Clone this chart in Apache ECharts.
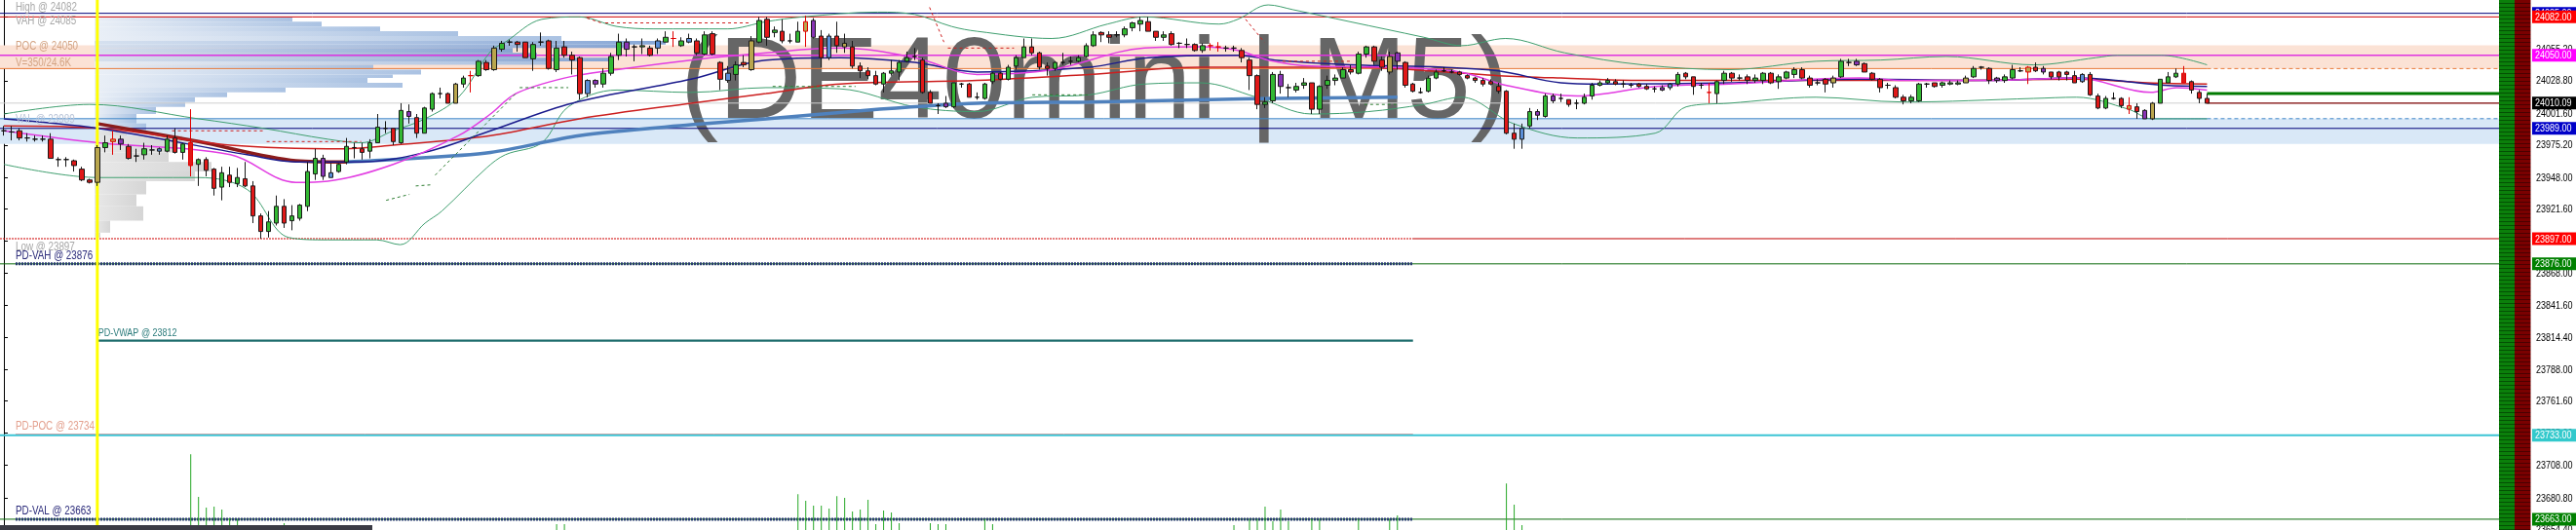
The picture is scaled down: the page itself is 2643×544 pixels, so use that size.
<!DOCTYPE html>
<html><head><meta charset="utf-8">
<script src="https://cdn.jsdelivr.net/npm/echarts@6/dist/echarts.min.js"></script>
<style>html,body{margin:0;padding:0;background:#fff;overflow:hidden}#c{width:2643px;height:544px}</style>
</head><body><div id="c"></div>
<script>
// ---- data ----
// candles: [open, close, low, high]
const candles = [
[23987,23987,23983,23991],[23986,23986,23979,23991],[23987,23981,23979,23989],[23981,23981,23978,23985],[23980,23980,23978,23983],[23980,23980,23978,23983],[23980,23964,23964,23985],[23963,23963,23957,23965],[23963,23963,23957,23965],[23962,23958,23953,23963],
[23955,23946,23945,23957],[23946,23944,23943,23947],[23944,23973,23941,23975],[23973,23977,23969,23983],[23978,23980,23967,23987],[23976,23980,23971,23983],[23974,23964,23963,23976],[23966,23966,23961,23972],[23967,23972,23963,23977],[23971,23971,23967,23975],
[23970,23972,23967,23973],[23970,23980,23969,23983],[23981,23969,23968,23989],[23969,23976,23963,23977],[23977,23958,23949,24005],[23959,23963,23941,23964],[23963,23954,23949,23965],[23955,23939,23933,23956],[23940,23952,23929,23957],[23950,23944,23940,23957],
[23943,23948,23940,23956],[23947,23941,23940,23961],[23941,23916,23910,23945],[23916,23903,23897,23918],[23903,23911,23898,23920],[23910,23924,23908,23933],[23924,23910,23906,23930],[23912,23916,23904,23925],[23914,23925,23912,23926],[23924,23953,23920,23961],
[23951,23964,23946,23972],[23964,23949,23946,23967],[23948,23952,23948,23960],[23953,23959,23952,23960],[23961,23974,23959,23981],[23973,23973,23964,23977],[23972,23969,23963,23977],[23970,23977,23964,23980],[23977,23990,23977,24001],[23989,23989,23985,23995],
[23989,23978,23975,23989],[23977,24004,23976,24010],[24003,23999,23993,24009],[23998,23985,23981,24001],[23985,24006,23985,24007],[24005,24018,24003,24019],[24018,24018,24014,24023],[24018,24010,24010,24019],[24010,24026,24010,24027],[24026,24031,24023,24033],
[24033,24033,24019,24037],[24033,24045,24032,24046],[24044,24038,24037,24046],[24038,24056,24037,24058],[24055,24060,24053,24062],[24061,24061,24058,24063],[24061,24059,24053,24062],[24061,24048,24048,24061],[24047,24059,24037,24061],[24061,24061,24058,24069],
[24062,24039,24038,24063],[24038,24056,24036,24062],[24057,24050,24048,24062],[24050,24046,24034,24053],[24048,24018,24013,24049],[24018,24029,24015,24030],[24029,24026,24023,24030],[24026,24035,24023,24039],[24035,24049,24033,24052],[24050,24061,24046,24068],
[24061,24055,24049,24064],[24057,24057,24045,24059],[24057,24058,24051,24064],[24056,24050,24049,24058],[24056,24062,24051,24064],[24061,24065,24061,24070],[24064,24064,24057,24070],[24058,24062,24057,24065],[24061,24064,24060,24068],[24062,24052,24050,24064],
[24051,24067,24050,24070],[24068,24051,24050,24070],[24044,24030,24021,24045],[24029,24035,24027,24041],[24034,24042,24029,24045],[24044,24042,24040,24050],[24038,24062,24037,24066],[24061,24079,24060,24082],[24080,24065,24058,24082],[24069,24071,24065,24074],
[24070,24062,24060,24080],[24062,24062,24060,24068],[24061,24070,24061,24078],[24070,24078,24057,24083],[24079,24065,24064,24081],[24066,24048,24040,24071],[24048,24066,24046,24068],[24066,24058,24052,24078],[24057,24060,24052,24068],[24057,24041,24039,24062],
[24041,24037,24031,24044],[24037,24033,24030,24040],[24033,24026,24025,24037],[24026,24035,24019,24036],[24035,24037,24033,24046],[24036,24044,24029,24046],[24045,24048,24044,24053],[24049,24049,24046,24056],[24046,24019,24018,24048],[24019,24010,24010,24021],
[24008,24008,24001,24010],[24007,24010,24006,24016],[24007,24027,24006,24027],[24026,24026,24023,24027],[24026,24015,24015,24027],[24015,24015,24013,24019],[24014,24026,24013,24027],[24028,24035,24026,24036],[24035,24030,24029,24036],[24030,24040,24029,24042],
[24041,24048,24038,24050],[24048,24057,24048,24064],[24057,24052,24050,24064],[24052,24040,24038,24053],[24041,24039,24033,24044],[24039,24044,24037,24045],[24044,24044,24042,24052],[24045,24045,24042,24049],[24045,24048,24044,24050],[24049,24058,24048,24060],
[24058,24067,24057,24070],[24069,24067,24061,24070],[24067,24065,24060,24070],[24067,24067,24065,24070],[24067,24072,24065,24074],[24073,24077,24070,24078],[24076,24079,24070,24082],[24078,24070,24070,24082],[24070,24065,24062,24070],[24065,24067,24062,24070],
[24068,24059,24058,24070],[24060,24060,24056,24061],[24059,24059,24056,24064],[24059,24054,24053,24060],[24054,24058,24052,24060],[24058,24058,24054,24060],[24057,24057,24053,24061],[24056,24056,24053,24058],[24056,24056,24053,24058],[24054,24048,24044,24056],
[24046,24033,24021,24048],[24033,24009,24005,24034],[24009,24011,24006,24015],[24012,24034,24010,24036],[24034,24024,24018,24037],[24023,24023,24015,24026],[24021,24024,24019,24027],[24025,24027,24022,24031],[24027,24005,24001,24027],[24005,24024,24001,24025],
[24025,24029,24022,24033],[24029,24031,24025,24034],[24031,24038,24031,24040],[24038,24036,24034,24042],[24035,24051,24034,24053],[24051,24057,24048,24058],[24057,24045,24042,24058],[24046,24040,24037,24049],[24036,24049,24034,24053],[24045,24052,24038,24053],
[24044,24025,24023,24045],[24026,24020,24019,24027],[24019,24019,24018,24023],[24020,24031,24019,24033],[24031,24036,24030,24038],[24037,24037,24036,24040],[24036,24036,24035,24038],[24036,24034,24033,24037],[24033,24031,24030,24034],[24031,24029,24027,24032],
[24029,24026,24024,24031],[24028,24026,24025,24030],[24024,24020,24018,24027],[24020,23985,23984,24021],[23985,23980,23972,23993],[23980,23989,23972,23993],[23991,24003,23989,24006],[24003,24000,23996,24005],[23999,24016,23998,24018],[24012,24016,24010,24018],
[24014,24014,24011,24018],[24013,24009,24007,24013],[24010,24010,24005,24013],[24010,24015,24009,24018],[24016,24025,24013,24027],[24025,24027,24024,24029],[24027,24029,24026,24031],[24028,24026,24025,24030],[24026,24026,24023,24029],[24025,24025,24023,24027],
[24026,24024,24023,24027],[24024,24022,24021,24026],[24022,24022,24019,24024],[24021,24023,24020,24025],[24023,24026,24021,24027],[24026,24034,24024,24036],[24035,24032,24030,24036],[24032,24024,24017,24032],[24025,24025,24022,24027],[24019,24019,24010,24027],
[24018,24028,24010,24029],[24029,24035,24026,24037],[24035,24031,24028,24036],[24031,24031,24029,24034],[24032,24029,24026,24034],[24029,24031,24027,24034],[24029,24035,24026,24036],[24035,24027,24026,24036],[24028,24032,24022,24034],[24031,24036,24030,24037],
[24034,24038,24031,24040],[24038,24031,24030,24040],[24031,24025,24023,24033],[24027,24027,24025,24030],[24030,24026,24019,24031],[24027,24031,24023,24033],[24032,24045,24031,24047],[24044,24044,24041,24047],[24042,24045,24041,24047],[24043,24036,24036,24044],
[24035,24030,24029,24036],[24030,24023,24019,24031],[24025,24025,24022,24027],[24023,24015,24014,24025],[24015,24012,24009,24017],[24012,24015,24010,24017],[24012,24026,24011,24027],[24026,24026,24023,24027],[24027,24024,24023,24027],[24025,24027,24023,24028],
[24026,24027,24025,24029],[24026,24027,24025,24029],[24027,24031,24027,24033],[24032,24039,24031,24041],[24040,24040,24038,24041],[24039,24029,24026,24040],[24031,24029,24027,24032],[24029,24032,24027,24034],[24031,24038,24030,24042],[24037,24037,24036,24040],
[24036,24040,24026,24041],[24040,24037,24036,24044],[24039,24036,24034,24041],[24036,24032,24030,24036],[24036,24032,24029,24037],[24036,24034,24029,24037],[24033,24027,24027,24037],[24028,24034,24027,24035],[24034,24017,24016,24036],[24016,24006,24005,24018],
[24006,24014,24005,24016],[24014,24014,24013,24019],[24014,24008,24006,24015],[24005,24008,24001,24015],[24007,24003,23997,24010],[24004,23997,23997,24005],[23997,24010,23996,24011],[24010,24030,24010,24030],[24027,24032,24027,24036],[24032,24035,24031,24039],
[24035,24027,24027,24041],[24028,24021,24018,24029],[24019,24014,24010,24021],[24014,24010,24010,24018]
];
// candle class: g up, r down, x doji, X doji red wick, R down red wick, p purple, b blue, o olive, O olive red wick
const candleKind =
"xxrxxxrxxr"+"rrogOprxgx"+"bgrgRgrrgr"+"grrrggrggg"+"gpbggxrggx"+"rgprggxrog"+"Xgrogxrrgx"+"rgrrrbpggg"+
"pxgrbgXgbr"+"grrbgrogrg"+"rxgOprbror"+"rrrggggxrr"+"xpgxrxggrg"+"ggrrrgxxgg"+"grrxgggrrg"+"rxxrgXXxxr"+
"rrggpxggrg"+"gggrggrrop"+"rrxggxxrrr"+"rrrrrbgpgp"+"xrxggggrxx"+"rrxpbgrrxX"+"ggrxrggrgg"+"grrxrogxpr"+
"rrxrrggxrg"+"ggogxrpggx"+"Orprrrrbrr"+"gxrOrpoggg"+"Rrrr";

const volumeIdx = [24,25,26,27,28,29,30,36,71,72,102,103,104,105,106,107,108,109,110,111,112,113,114,115,119,120,121,126,127,158,160,161,162,163,164,165,168,169,174,178,179,193,194,195];
const volumeVal = [780,340,230,240,210,120,110,70,60,60,370,300,250,250,220,350,330,190,210,310,60,200,180,70,70,60,60,110,60,50,110,110,240,90,210,90,110,110,110,110,150,480,260,50];

const profileLow  = [24078,24074,24070,24066,24062,24059,24056,24052,24048,24045,24042,24038,24034,24031,24027,24023,24019,24015,24011,24007,24001,23993,23987,23983,23976,23969,23961,23953,23945,23934,23924,23912,23902,23898];
const profileHigh = [24082,24078,24074,24070,24066,24062,24059,24056,24052,24048,24045,24042,24038,24034,24031,24027,24023,24019,24015,24011,24007,24001,23993,23987,23983,23976,23969,23961,23953,23945,23934,23924,23912,23902];
const profileVol  = [203,233,293,373,479,586,543,429,454,533,463,286,335,306,280,316,196,136,103,93,63,43,53,33,90,83,76,120,103,53,43,50,16,6];

// indicator lines: [bar index, price]
const maFast = [[0,23987],[12.1,23977],[29.1,23967],[37.5,23944],[41.6,23945],[50,23959],[58.4,23983],[62.5,24001],[65.75,24018],[72,24031],[78.75,24038],[88.25,24046],[97.9,24052],[107.4,24056],[117,24048],[125,24034],[134.6,24038],[146.5,24056],[153.75,24057],[158.5,24054],[162.4,24046],[168,24041],[177.6,24040],[187.1,24036],[192.9,24025],[202.1,24016],[212.1,24024],[221.6,24026],[238.4,24031],[244,24029],[255.1,24029],[266.25,24031],[275.75,24019],[279.1,24023],[283,24021]];
const maMid = [[0,23997],[12.1,23989],[31.25,23967],[37.5,23961],[45.9,23961],[54.1,23969],[62.5,23987],[73,24010],[88.25,24030],[97.9,24046],[107.4,24048],[117,24044],[125,24036],[139.4,24040],[147,24048],[158.5,24050],[163.25,24046],[172.9,24042],[184.75,24040],[192,24037],[200,24027],[204.9,24026],[221.6,24027],[238.4,24030],[255.1,24029],[266.25,24031],[277.5,24025],[283,24024]];
const maSlow = [[0,23991],[12.5,23989],[29.1,23975],[43.75,23972],[50,23975],[62.5,23983],[73.9,23997],[88.25,24010],[97.9,24018],[107.4,24026],[125,24029],[139.4,24034],[153.75,24040],[172.9,24040],[192,24033],[200,24031],[210.5,24029],[232.75,24029],[249.5,24029],[266.25,24030],[275.4,24027],[283,24026]];
const vwapDown = [[12,23993],[25,23978],[37.5,23962],[44,23961]];
const vwapUp = [[44,23961],[50,23963],[62.5,23969],[73.9,23983],[88.25,23992],[97.9,23997],[112.5,24005],[125,24010],[139.4,24011],[155.1,24013],[163.25,24014],[179,24015]];
const bbUpper = [[0,24001],[11,24009],[25,23997],[33.4,23989],[41.6,23980],[45.9,23977],[50,23987],[54.1,23997],[58.4,24015],[62.5,24053],[64.4,24061],[69.1,24080],[73.9,24082],[78.75,24074],[83.5,24072],[93,24072],[97.9,24078],[102.6,24082],[112.25,24086],[117,24084],[121.75,24074],[125,24070],[134.6,24064],[141.75,24076],[146.5,24082],[156.1,24076],[158.5,24080],[162.4,24092],[165.6,24088],[172.9,24078],[182.4,24065],[187.25,24058],[192.9,24064],[200.5,24052],[210.5,24042],[221.6,24038],[232.75,24045],[241.1,24046],[249.5,24049],[260.75,24042],[268.75,24048],[271.5,24050],[277.1,24050],[283,24042]];
const bbLower = [[0,23959],[12.1,23948],[25,23948],[31.25,23938],[36.6,23898],[41.6,23896],[47.9,23896],[50.9,23892],[54.1,23910],[56.25,23920],[62,23956],[64.4,23967],[69.1,23977],[72.5,24007],[78.75,24021],[88.25,24019],[97.9,24023],[107.4,24022],[117,24007],[125,24003],[132.1,24015],[139.4,24017],[146.5,24026],[153.75,24027],[160.9,24015],[168,24001],[175.25,24003],[182.4,24009],[187.25,24015],[193.9,23993],[202.1,23981],[212.1,23985],[216.1,24007],[221.6,24010],[232.75,24015],[244,24011],[260.75,24014],[266.25,24015],[272.9,24005],[275.9,23997],[283,23997]];
const stopGreen = [[[49.1,23929],[52.1,23934]],[[52.9,23941],[55,23942]],[[55.4,23950],[65.75,24018]],[[66.25,24023],[72.5,24023]],[[98.75,24024],[109.4,24024]],[[132.1,24017],[139.4,24017]],[[174.75,24009],[179,24009]]];
const stopRed = [[[21.6,23987],[33.4,23987]],[[33.75,23978],[45.9,23978]],[[74.9,24081],[76.75,24077]],[[77.25,24077],[95.9,24077]],[[118.9,24090],[120.75,24061]],[[121.25,24056],[129.75,24056]],[[159.5,24080],[161.9,24061]],[[164.25,24045],[172.9,24045]]];

// horizontal levels
const levelPrices = [24085,24082,24050,24038.9,24010.09,24018,23997.1,23989,23897,23876,23812,23734,23733,23663];
const zonePoc = [24038.9,24058.3];
const zoneVal = [23976.0,23997.1];
const levelLabels = ['High @ 24082','VAH @ 24085','POC @ 24050','V=350/24.6K','VAL @ 23989','Low @ 23897','PD-VAH @ 23876','PD-VWAP @ 23812','PD-POC @ 23734','PD-VAL @ 23663'];
const levelLabelPrices = [24082,24085,24050,24038.9,23989,23897,23876,23812,23734,23663];
const tagPrices = [24085,24082,24050,24010.09,23989,23897,23876,23733,23663];
const yTicks = [24082.4,24055.2,24028.8,24001.6,23975.2,23948.0,23921.6,23895.2,23868.0,23841.6,23814.4,23788.0,23761.6,23735.2,23708.0,23680.8,23654.4];
const sessionStart = 12;
const lastBar = 283;

// ---- font check: narrow family if present, otherwise squeeze regular ----
function textW(font, t) { const c = document.createElement('canvas').getContext('2d'); c.font = font; return c.measureText(t).width; }
const wNarrow = textW('11px "Liberation Sans Narrow", monospace', '24028.80');
const wMono = textW('11px monospace', '24028.80');
const hasNarrow = Math.abs(wNarrow - wMono) > 0.5;
const FAM = hasNarrow ? '"Liberation Sans Narrow"' : '"Liberation Sans", Arial, sans-serif';
const SQ = hasNarrow ? 1 : Math.min(1, 37.6 / textW('11px "Liberation Sans", Arial, sans-serif', '24028.80'));

// ---- build ----
const YMIN = 23654, YMAX = 24096.1, NCAT = 321, XEND = NCAT - 0.5;
const cats = Array.from({length: NCAT}, (_, i) => String(i));
const kindStyle = {
  x: {borderColor:'#111', borderColor0:'#111', borderColorDoji:'#111'},
  X: {borderColor:'#e00000', borderColor0:'#e00000', borderColorDoji:'#e00000'},
  R: {borderColor0:'#e00000'},
  p: {color:'#8a34b6', color0:'#8a34b6'},
  b: {color:'#5b8fd8', color0:'#5b8fd8'},
  o: {color:'#b9a64d', color0:'#b9a64d'},
  O: {color:'#b9a64d', color0:'#b9a64d', borderColor:'#e00000', borderColor0:'#e00000'}
};
const candleData = candles.map((c, i) => {
  const st = kindStyle[candleKind[i]];
  return st ? {value: c, itemStyle: st} : c;
});
const volData = cats.map(() => 0);
volumeIdx.forEach((k, i) => { volData[k] = volumeVal[i]; });

function lineSeries(data, color, width, type, z, smooth) {
  return {type:'line', xAxisIndex:1, yAxisIndex:0, data, showSymbol:false, symbol:'none', silent:true,
    smooth: smooth || 0, z: z || 3, lineStyle:{color, width, type: type || 'solid'}, animation:false};
}
const series = [];
series.push({type:'line', xAxisIndex:1, yAxisIndex:0, data:[], z:0, silent:true,
  markArea:{silent:true, data:[
    [{coord:[-0.5, zonePoc[1]], itemStyle:{color:'#fbe2d5'}}, {coord:[XEND, zonePoc[0]]}],
    [{coord:[-0.5, zoneVal[1]], itemStyle:{color:'#d9e8f7'}}, {coord:[XEND, zoneVal[0]]}]
  ]}});
series.push({type:'custom', xAxisIndex:2, yAxisIndex:2, z:1, silent:true,
  data: profileLow.map((l, i) => [l, profileHigh[i], profileVol[i]]),
  renderItem(params, api) {
    const lo = api.value(0), hi = api.value(1), v = api.value(2);
    const p0 = api.coord([0, hi]), p1 = api.coord([v, lo]);
    let c0 = '#e8eef6', c1 = '#a3bde0';
    if (lo >= 24045 && hi <= 24062) { c0 = '#d2deee'; c1 = '#7d9fd2'; }
    if (hi <= 23990) { c0 = '#e6e6e6'; c1 = '#d2d2d2'; }
    return {type:'rect', shape:{x:p0[0], y:p0[1], width:p1[0]-p0[0], height:p1[1]-p0[1]},
      style:{fill: new echarts.graphic.LinearGradient(0,0,1,0,[{offset:0,color:c0},{offset:1,color:c1}]), opacity:0.92}};
  }});
const segs = [
  [0,-0.5,XEND,'#00007a',1,'solid'],[1,-0.5,XEND,'#d00000',1,'solid'],[2,-0.5,XEND,'#e033e0',1.5,'solid'],
  [3,-0.5,lastBar,'#e8793a',1,'solid'],[3,lastBar,XEND,'#e8793a',1,[4,3]],
  [4,-0.5,lastBar,'#d0d0d0',1,'solid'],[4,lastBar,XEND,'#7a0000',1.2,'solid'],
  [5,lastBar,XEND,'#007a00',3,'solid'],
  [6,-0.5,lastBar,'#3d85c6',1,'solid'],[6,lastBar,XEND,'#3d85c6',1,[4,3]],
  [7,-0.5,XEND,'#00007a',1,'solid'],
  [8,-0.5,181,'#d00000',1,[2,1]],[8,181,XEND,'#c00000',1,'solid'],
  [9,-0.5,XEND,'#0a6a0a',1,'solid'],[9,1.5,181,'#2b3c72',3,[2,1]],
  [10,12.1,181,'#1e6e6e',2.2,'solid'],
  [11,1.5,181,'#eda3a3',1,'solid'],[12,-0.5,XEND,'#3cc4d4',2,'solid'],
  [13,-0.5,XEND,'#0a6a0a',1,'solid'],[13,1.5,181,'#2b3c72',3,[2,1]]
];
segs.forEach(s => series.push(lineSeries([[s[1], levelPrices[s[0]]],[s[2], levelPrices[s[0]]]], s[3], s[4], s[5], 2)));
series.push(lineSeries(bbUpper, '#3f9f6f', 1, 'solid', 3, 0.35));
series.push(lineSeries(bbLower, '#3f9f6f', 1, 'solid', 3, 0.35));
series.push(lineSeries(vwapDown, '#8b1c1c', 3.5, 'solid', 3, 0.3));
series.push(lineSeries(vwapUp, '#4f81bd', 3.5, 'solid', 3, 0.3));
series.push(lineSeries(maSlow, '#cc1f1f', 1.5, 'solid', 3, 0.35));
series.push(lineSeries(maMid, '#1b1b8c', 1.5, 'solid', 3, 0.35));
series.push(lineSeries(maFast, '#e23de2', 1.5, 'solid', 3, 0.35));
stopGreen.forEach(s => series.push(lineSeries(s, '#2e7d32', 1, [3,3], 3)));
stopRed.forEach(s => series.push(lineSeries(s, '#d02020', 1, [3,3], 3)));
// level labels
const labelX = [1.5,1.5,1.5,1.5,1.5,1.5,1.5,12.1,1.5,1.5];
const labelDy = [-9.5,8.5,-9,-6,-9,9,-8,-8,-8,-8];
const labelColor = ['#a8a8a8','#a8a8a8','#d3a383','#d3a383','#b9c4d8','#a8a8a8','#2b2b7a','#2a7a7a','#e3a08e','#2b2b7a'];
series.push({type:'custom', xAxisIndex:1, yAxisIndex:0, z:4, silent:true, clip:false,
  data: levelLabelPrices.map((p, i) => [labelX[i], p, i]),
  renderItem(params, api) {
    const i = api.value(2), pt = api.coord([api.value(0), api.value(1)]);
    const fs = i === 7 ? 11 : 12;
    return {type:'text', x:pt[0], y:pt[1] + labelDy[i], scaleX: SQ,
      style:{text: levelLabels[i], fill: labelColor[i], font: fs + 'px ' + FAM,
        align:'left', verticalAlign:'middle', textAlign:'left', textVerticalAlign:'middle'}};
  }});
series.push(lineSeries([[sessionStart, YMIN],[sessionStart, YMAX]], '#ffff00', 3, 'solid', 5));
series.push({type:'bar', xAxisIndex:0, yAxisIndex:1, data: volData, barWidth:1, z:5, silent:true,
  itemStyle:{color:'#27a827'}, animation:false});
series.push({type:'candlestick', xAxisIndex:0, yAxisIndex:0, data: candleData, barWidth:5, z:6, silent:true,
  itemStyle:{color:'#33b833', color0:'#e01818', borderColor:'#1a1a1a', borderColor0:'#1a1a1a', borderColorDoji:'#1a1a1a', borderWidth:1},
  animation:false});
// price-axis tick labels (placed through the y scale)
series.push({type:'custom', xAxisIndex:1, yAxisIndex:0, z:9, silent:true, clip:false,
  data: yTicks.map(v => [XEND, v]),
  renderItem(params, api) {
    const pt = api.coord([api.value(0), api.value(1)]);
    return {type:'text', x:pt[0]+38, y:pt[1]+0.5, scaleX: SQ,
      style:{text: api.value(1).toFixed(2), fill:'#000', font:'11px ' + FAM,
        align:'left', verticalAlign:'middle', textAlign:'left', textVerticalAlign:'middle'}};
  }});
// price tags
const tagColors = ['#0000c8','#ff0000','#ff00ff','#000000','#0000c8','#ff0000','#008000','#33c9cc','#008000'];
series.push({type:'custom', xAxisIndex:1, yAxisIndex:0, z:10, silent:true, clip:false,
  data: tagPrices.map((p, i) => [XEND, p, i]),
  renderItem(params, api) {
    const i = api.value(2), pt = api.coord([api.value(0), api.value(1)]);
    return {type:'group', children:[
      {type:'rect', shape:{x:pt[0]+34, y:pt[1]-6.5, width:46, height:13}, style:{fill: tagColors[i]}},
      {type:'text', x:pt[0]+37, y:pt[1]+0.5, scaleX: SQ, style:{text: tagPrices[i].toFixed(2), fill:'#ffffff',
        font:'11px ' + FAM, align:'left', verticalAlign:'middle', textAlign:'left', textVerticalAlign:'middle'}}
    ]};
  }});

function stripe(c1, c2) {
  const cv = document.createElement('canvas'); cv.width = 4; cv.height = 4;
  const ctx = cv.getContext('2d'); ctx.fillStyle = c1; ctx.fillRect(0,0,4,4);
  ctx.fillStyle = c2; ctx.fillRect(0,3,4,1);
  return {image: cv, repeat: 'repeat'};
}

const chart = echarts.init(document.getElementById('c'), null, {renderer:'canvas'});
chart.setOption({
  animation:false,
  backgroundColor:'#ffffff',
  grid:[{left:-4, right:79, top:0, bottom:-2}, {left:97, right:79, top:0, bottom:-2}],
  xAxis:[
    {type:'category', data:cats, gridIndex:0, show:false, boundaryGap:true},
    {type:'value', gridIndex:0, min:-0.5, max:XEND, show:false},
    {type:'value', gridIndex:1, min:0, max:2467, show:false}
  ],
  yAxis:[
    {type:'value', gridIndex:0, min:YMIN, max:YMAX, position:'right', offset:33, scale:true,
      axisLine:{show:true, lineStyle:{color:'#000', width:1}},
      axisTick:{show:true, length:4, customValues:yTicks, lineStyle:{color:'#000'}},
      axisLabel:{show:false},
      splitLine:{show:false}},
    {type:'value', gridIndex:0, min:0, max:5460, show:false},
    {type:'value', gridIndex:1, min:YMIN, max:YMAX, show:false}
  ],
  graphic:[
    {type:'text', z:2, x:1123, y:88, silent:true,
      style:{text:'(DE40mini | M5)', font:'118px "Liberation Sans", Arial, sans-serif', fill:'#666666',
        align:'center', verticalAlign:'middle', textAlign:'center', textVerticalAlign:'middle'}},
    {type:'rect', z:10, x:2564, y:0, shape:{width:16, height:544}, style:{fill: stripe('#0b800b', '#045004')}},
    {type:'rect', z:10, x:2580, y:0, shape:{width:16.5, height:544}, style:{fill: stripe('#7a0000', '#4a0000')}},
    {type:'rect', z:10, x:0, y:539, shape:{width:382, height:5}, style:{fill:'#3b3b45'}}
  ],
  series
});
</script>
</body></html>
